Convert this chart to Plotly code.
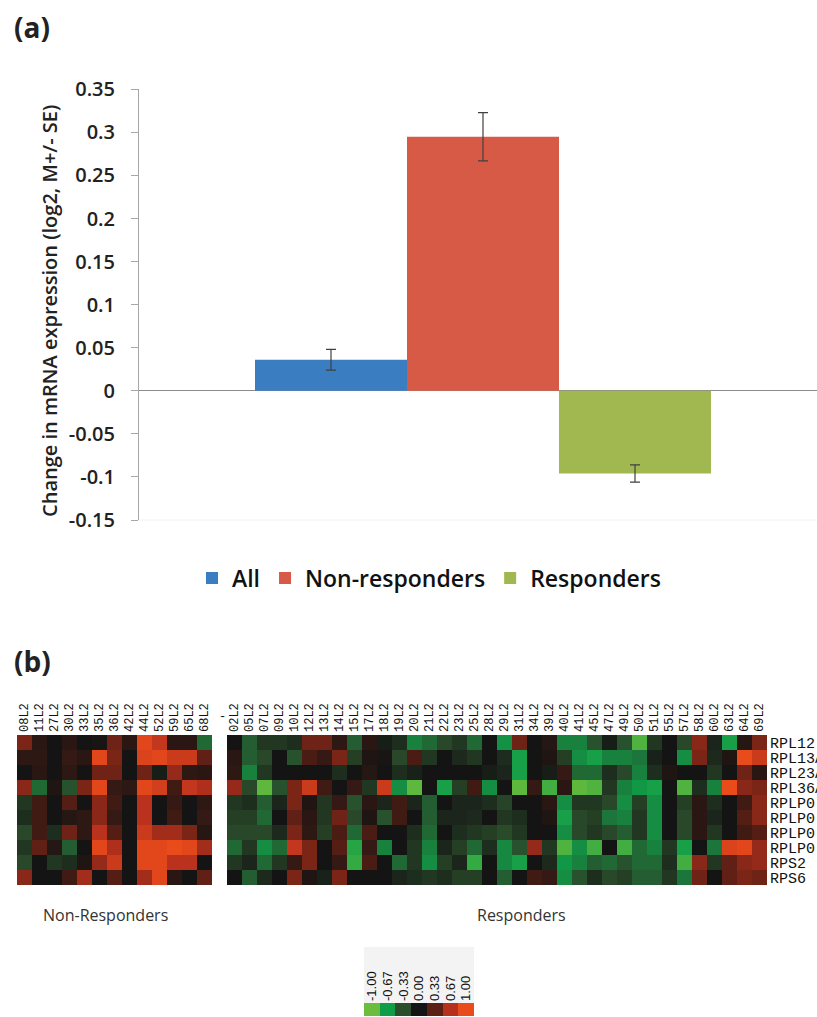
import plotly.graph_objects as go

W, H = 817, 1017

# ---------- Panel (a) data ----------
groups = ["All", "Non-responders", "Responders"]
means = [0.036, 0.295, -0.096]
ses = [0.012, 0.028, 0.010]
bar_colors = ["#3a7dc1", "#d65a46", "#a1b850"]
y_tick_vals = [-0.15, -0.1, -0.05, 0, 0.05, 0.1, 0.15, 0.2, 0.25, 0.3, 0.35]
y_tick_text = ["-0.15", "-0.1", "-0.05", "0", "0.05", "0.1", "0.15", "0.2", "0.25", "0.3", "0.35"]

# ---------- Panel (b) data ----------
genes = ["RPL12", "RPL13A", "RPL23A", "RPL36A", "RPLP0", "RPLP0", "RPLP0", "RPLP0", "RPS2", "RPS6"]
nonresp_samples = ["08L2", "11L2", "27L2", "30L2", "33L2", "35L2", "36L2", "42L2", "44L2", "52L2", "59L2", "65L2", "68L2"]
resp_samples = ["02L2", "05L2", "07L2", "09L2", "10L2", "12L2", "13L2", "14L2", "15L2", "17L2", "18L2", "19L2",
                "20L2", "21L2", "22L2", "23L2", "25L2", "28L2", "29L2", "31L2", "34L2", "39L2", "40L2", "41L2",
                "45L2", "47L2", "49L2", "50L2", "51L2", "55L2", "57L2", "58L2", "60L2", "63L2", "64L2", "69L2"]

nonresp_z = [
    [0.45, 0.10, 0.00, 0.10, 0.00, 0.02, 0.40, 0.10, 0.95, 0.75, 0.10, 0.10, -0.45],
    [0.12, 0.12, 0.00, 0.15, 0.10, 0.95, 0.45, 0.00, 0.90, 0.95, 0.80, 0.80, 0.35],
    [0.00, 0.10, 0.00, 0.12, 0.00, 0.40, 0.40, 0.00, 0.40, -0.05, 0.55, 0.12, 0.10],
    [0.50, -0.45, 0.05, -0.35, 0.45, 0.95, 0.15, 0.12, 0.95, 0.85, 0.20, 0.75, 0.65],
    [-0.20, 0.20, 0.00, 0.30, 0.00, 0.50, 0.20, 0.00, 0.70, 0.00, 0.15, 0.00, 0.12],
    [-0.15, 0.20, 0.00, 0.08, 0.12, 0.50, 0.15, 0.00, 0.70, 0.00, 0.20, 0.00, 0.15],
    [-0.30, 0.20, -0.15, 0.40, 0.12, 0.70, 0.30, 0.00, 0.80, 0.60, 0.60, 0.45, 0.08],
    [-0.20, 0.35, 0.08, -0.40, 0.00, 0.95, 0.65, 0.00, 0.95, 0.95, 1.00, 0.95, 0.60],
    [-0.30, 0.00, -0.20, -0.15, 0.05, 0.55, 0.80, 0.00, 0.95, 0.95, 0.70, 0.70, 0.00],
    [0.50, 0.00, 0.00, 0.20, 0.60, 0.00, 0.30, 0.00, 0.60, 0.95, 0.10, 0.00, 0.35],
]

resp_z = [
    [0.00, -0.40, -0.20, -0.20, -0.15, 0.40, 0.40, 0.12, -0.40, 0.10, -0.05, -0.15, -0.55, -0.45, -0.30, -0.20, -0.45, 0.00, -0.62,
     0.40, 0.00, 0.08, -0.55, -0.55, -0.35, -0.05, -0.35, -0.90, -0.20, 0.00, -0.30, 0.50, -0.10, -0.70, 0.08, 0.45],
    [0.10, -0.40, -0.30, 0.00, -0.35, 0.25, 0.15, 0.45, -0.25, 0.05, 0.02, -0.30, 0.25, -0.20, 0.00, -0.12, -0.20, 0.00, -0.14,
     -0.70, 0.00, 0.05, -0.25, -0.60, -0.70, -0.55, -0.55, -0.50, -0.08, 0.00, -0.60, 0.45, -0.12, 0.05, 1.00, 0.80],
    [0.12, -0.55, -0.20, 0.00, 0.00, 0.00, 0.00, -0.15, 0.00, 0.08, 0.00, -0.15, -0.08, 0.00, 0.00, 0.00, 0.00, -0.05, -0.10,
     -0.70, 0.00, -0.05, 0.15, -0.45, -0.45, -0.15, -0.30, -0.55, -0.15, 0.05, 0.00, 0.00, -0.20, 0.00, 0.40, 0.10],
    [0.55, -0.30, -0.95, -0.35, 0.45, 0.80, 0.20, 0.00, 0.15, -0.20, 0.80, -0.60, -0.95, 0.00, -0.70, -0.25, 0.20, -0.60, 0.00,
     -0.95, 0.15, -0.85, 0.10, -0.95, -0.90, -0.20, -0.55, -0.65, -0.70, 0.00, -0.90, -0.15, -0.55, 1.00, 0.50, 0.45],
    [-0.20, -0.15, -0.40, -0.10, 0.45, 0.05, -0.20, 0.15, -0.35, 0.10, -0.10, 0.20, -0.10, -0.40, 0.00, -0.10, -0.10, -0.15, -0.28,
     0.00, 0.00, 0.10, -0.60, -0.20, -0.20, -0.30, -0.60, -0.25, -0.60, 0.00, -0.25, 0.10, -0.15, 0.00, 0.20, 0.50],
    [-0.25, -0.25, -0.45, 0.00, 0.35, 0.10, -0.20, 0.40, -0.30, 0.05, -0.35, 0.20, 0.00, -0.40, -0.10, -0.10, -0.12, 0.00, -0.20,
     -0.15, 0.00, 0.05, -0.70, -0.30, -0.25, -0.50, -0.55, -0.20, -0.60, 0.00, -0.30, 0.10, -0.10, 0.00, 0.30, 0.50],
    [-0.30, -0.30, -0.30, -0.12, 0.45, 0.12, -0.25, 0.25, -0.45, 0.25, 0.00, 0.00, -0.15, -0.45, 0.00, -0.15, -0.20, -0.25, -0.32,
     -0.20, 0.00, 0.00, -0.60, -0.30, -0.20, -0.30, -0.40, -0.20, -0.60, 0.00, -0.30, 0.10, -0.20, 0.00, 0.20, 0.30],
    [-0.45, -0.20, -0.60, -0.45, 0.75, 0.45, 0.00, 0.30, -0.75, 0.15, -0.55, 0.00, -0.20, -0.55, -0.10, -0.25, -0.45, -0.15, -0.58,
     -0.35, 0.55, -0.20, -0.90, -0.60, -0.85, 0.00, -0.85, -0.45, -0.55, -0.20, -0.70, 0.00, -0.50, 0.90, 0.95, 0.55],
    [-0.20, -0.10, -0.45, -0.20, 0.15, 0.45, 0.00, 0.15, -0.80, 0.25, 0.00, -0.45, -0.20, -0.60, -0.25, -0.10, -0.80, 0.00, -0.58,
     -0.70, 0.00, -0.12, -0.65, -0.55, -0.40, -0.45, -0.35, -0.45, -0.45, -0.15, -0.85, 0.50, -0.20, 0.35, 0.50, 0.55],
    [0.00, -0.40, -0.12, 0.00, 0.45, 0.05, -0.08, 0.45, 0.00, 0.00, 0.00, -0.10, -0.15, -0.20, -0.15, -0.25, -0.25, 0.00, -0.40,
     0.00, 0.20, 0.15, -0.60, -0.35, -0.15, -0.30, -0.25, -0.40, -0.40, -0.20, -0.50, 0.40, 0.00, 0.35, 0.45, 0.40],
]

key_values = [-1.0, -0.67, -0.33, 0.0, 0.33, 0.67, 1.0]
key_labels = ["-1.00", "-0.67", "-0.33", "0.00", "0.33", "0.67", "1.00"]

colorscale = [
    [0.0, "#6cbd3c"], [0.165, "#0f9d48"], [0.335, "#2a4d2b"], [0.5, "#141414"],
    [0.665, "#5c1f14"], [0.835, "#b5301d"], [1.0, "#ea4b1b"],
]


def px_x(x):
    return x / W


def px_y(y):
    return 1 - y / H


fig = go.Figure()

# ---------- bars ----------
for g, m, s, c in zip(groups, means, ses, bar_colors):
    fig.add_trace(go.Bar(
        x=[""], y=[m], name=g, marker=dict(color=c, line=dict(width=0)),
        error_y=dict(type="data", array=[s], color="#404040", thickness=1.2, width=5),
        xaxis="x", yaxis="y",
    ))

# ---------- heatmaps ----------
rows_idx = list(range(len(genes)))
fig.add_trace(go.Heatmap(
    z=nonresp_z, x=nonresp_samples, y=rows_idx, zmin=-1, zmax=1,
    colorscale=colorscale, showscale=False, xaxis="x2", yaxis="y2", hoverinfo="skip",
))
fig.add_trace(go.Heatmap(
    z=resp_z, x=resp_samples, y=rows_idx, zmin=-1, zmax=1,
    colorscale=colorscale, showscale=False, xaxis="x3", yaxis="y3", hoverinfo="skip",
))
key_idx = list(range(len(key_values)))
fig.add_trace(go.Heatmap(
    z=[key_values], x=key_idx, y=[0], zmin=-1, zmax=1,
    colorscale=colorscale, showscale=False, xaxis="x4", yaxis="y4", hoverinfo="skip",
))

main_font = "Open Sans"
mono = "Liberation Mono"

# bar x-axis mapping (single category, group centred at px 483)
x0_px, x1_px, center_px, group_w_px = 139, 817, 483, 456
ppu = (center_px - x0_px) / 0.5
xr_right = (x1_px - center_px) / ppu
bargap = 1 - group_w_px / ppu

hm_top, hm_bot = 735, 885

fig.update_layout(
    width=W, height=H, margin=dict(l=0, r=0, t=0, b=0, autoexpand=False),
    paper_bgcolor="white", plot_bgcolor="rgba(0,0,0,0)",
    barmode="group", bargap=bargap, bargroupgap=0,
    showlegend=True,
    legend=dict(orientation="h", x=px_x(429), xanchor="center", y=px_y(578), yanchor="middle",
                font=dict(family=main_font, size=23, color="#111", weight=600),
                itemwidth=30, traceorder="normal", bgcolor="rgba(0,0,0,0)"),
    xaxis=dict(domain=[px_x(x0_px), 1], range=[-0.5, xr_right], showticklabels=False,
               showline=False, showgrid=False, zeroline=False, ticks="", fixedrange=True,
               automargin=False),
    yaxis=dict(domain=[px_y(520), px_y(89.3)], range=[-0.15, 0.35], tickvals=y_tick_vals,
               ticktext=y_tick_text, showline=True, linecolor="#a6a6a6", linewidth=1,
               ticks="outside", ticklen=7, tickcolor="#a6a6a6", showgrid=False,
               zeroline=True, zerolinecolor="#8c8c8c", zerolinewidth=1.2,
               tickfont=dict(family=main_font, size=20, color="#222", weight=600),
               ticklabelstandoff=12, automargin=False),
    xaxis2=dict(domain=[px_x(17), px_x(212)], anchor="y2", side="top", tickangle=-90,
                tickfont=dict(family=mono, size=12, color="#111"), ticks="", showgrid=False,
                zeroline=False, showline=False, ticklabelstandoff=2, automargin=False),
    yaxis2=dict(domain=[px_y(hm_bot), px_y(hm_top)], anchor="x2", autorange="reversed",
                showticklabels=False, showgrid=False, zeroline=False, ticks="", automargin=False),
    xaxis3=dict(domain=[px_x(227), px_x(767)], anchor="y3", side="top", tickangle=-90,
                tickfont=dict(family=mono, size=12, color="#111"), ticks="", showgrid=False,
                zeroline=False, showline=False, ticklabelstandoff=2, automargin=False),
    yaxis3=dict(domain=[px_y(hm_bot), px_y(hm_top)], anchor="x3", autorange="reversed",
                side="right", tickvals=rows_idx, ticktext=genes,
                tickfont=dict(family=mono, size=15, color="#111"), showgrid=False,
                zeroline=False, ticks="", ticklabelstandoff=2, automargin=False),
    xaxis4=dict(domain=[px_x(364), px_x(474)], anchor="y4", side="top", tickangle=-90,
                tickmode="array", tickvals=key_idx, ticktext=key_labels,
                range=[-0.5, len(key_values) - 0.5],
                tickfont=dict(family="Liberation Sans", size=13, color="#111"), ticks="",
                showgrid=False, zeroline=False, ticklabelstandoff=1, automargin=False),
    yaxis4=dict(domain=[px_y(1016), px_y(1003)], anchor="x4", showticklabels=False,
                showgrid=False, zeroline=False, ticks="", automargin=False),
    shapes=[
        dict(type="rect", xref="paper", yref="paper", x0=px_x(364), x1=px_x(474),
             y0=px_y(1003), y1=px_y(947), fillcolor="#f3f3f3", line=dict(width=0), layer="below"),
        dict(type="line", xref="paper", yref="paper", x0=px_x(139), x1=1,
             y0=px_y(520), y1=px_y(520), line=dict(color="#f0f0f0", width=1), layer="below"),
    ],
    annotations=[
        dict(text="(a)", x=px_x(12), y=px_y(27), xref="paper", yref="paper", xanchor="left",
             yanchor="middle", showarrow=False,
             font=dict(family=main_font, size=28, color="#222", weight=700)),
        dict(text="(b)", x=px_x(12), y=px_y(661), xref="paper", yref="paper", xanchor="left",
             yanchor="middle", showarrow=False,
             font=dict(family=main_font, size=28, color="#222", weight=700)),
        dict(text="Change in mRNA expression (log2, M+/- SE)", x=px_x(49), y=px_y(311),
             xref="paper", yref="paper", textangle=-90, showarrow=False,
             xanchor="center", yanchor="middle",
             font=dict(family=main_font, size=20, color="#222", weight=600)),
        dict(text="Non-Responders", x=px_x(105), y=px_y(915), xref="paper", yref="paper",
             xanchor="center", yanchor="middle",
             showarrow=False, font=dict(family=main_font, size=16, color="#333")),
        dict(text="Responders", x=px_x(521), y=px_y(915), xref="paper", yref="paper",
             xanchor="center", yanchor="middle",
             showarrow=False, font=dict(family=main_font, size=16, color="#333")),
        dict(text="-", x=px_x(222), y=px_y(717), xref="paper", yref="paper",
             xanchor="center", yanchor="middle",
             showarrow=False, font=dict(family=mono, size=12, color="#111")),
    ],
)

post = (
    "document.documentElement.style.margin='0';"
    "document.documentElement.style.padding='0';"
    "document.documentElement.style.overflow='hidden';"
    "document.body.style.margin='0';"
    "document.body.style.padding='0';"
    "document.body.style.overflow='hidden';"
    "var gd=document.getElementById('{plot_id}');"
    "gd.style.position='fixed';gd.style.left='0px';gd.style.top='0px';"
)

fig.write_html("out.html", post_script=post, config={"displayModeBar": False})
